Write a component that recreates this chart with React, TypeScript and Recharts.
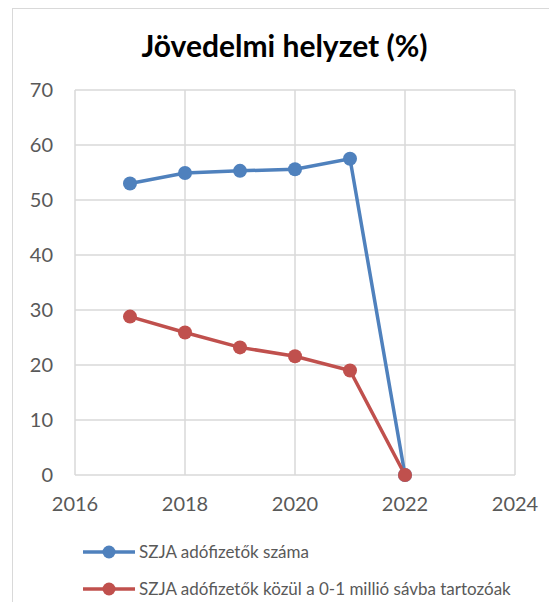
import React from "react";
import { LineChart, Line, XAxis, YAxis, CartesianGrid, Legend } from "recharts";

const YEARS = [2017, 2018, 2019, 2020, 2021, 2022];
const TAXPAYERS = [53.0, 54.9, 55.3, 55.6, 57.5, 0];
const LOW_BAND = [28.8, 25.9, 23.2, 21.6, 19.0, 0];
const X_TICKS = [2016, 2018, 2020, 2022, 2024];
const Y_TICKS = [0, 10, 20, 30, 40, 50, 60, 70];

const SERIES = [
  { key: "szja", name: "SZJA adófizetők száma", color: "#4f81bd" },
  { key: "low", name: "SZJA adófizetők közül a 0-1 millió sávba tartozóak", color: "#c0504d" },
];

const data = YEARS.map((year, i) => ({ year, szja: TAXPAYERS[i], low: LOW_BAND[i] }));

const FONT = "Lato, 'Open Sans', sans-serif";

function LegendBox() {
  return (
    <div style={{ fontFamily: FONT, fontSize: 17, color: "#595959" }}>
      {SERIES.map((s) => (
        <div key={s.key} style={{ display: "flex", alignItems: "center", height: 37, whiteSpace: "nowrap" }}>
          <svg width={52} height={16} style={{ marginRight: 4, flex: "none" }}>
            <line x1={0} y1={8} x2={52} y2={8} stroke={s.color} strokeWidth={3.5} />
            <circle cx={26} cy={8} r={6.5} fill={s.color} />
          </svg>
          <span>{s.name}</span>
        </div>
      ))}
    </div>
  );
}

export default function App() {
  return (
    <div style={{ position: "absolute", left: 0, top: 0, width: 549, height: 602, background: "#fff", overflow: "hidden" }}>
      <div
        style={{
          position: "absolute",
          left: 12,
          top: 8,
          width: 600,
          height: 700,
          borderLeft: "1px solid #d9d9d9",
          borderTop: "1px solid #d9d9d9",
        }}
      />
      <div
        style={{
          position: "absolute",
          left: 0,
          width: 569,
          top: 27,
          textAlign: "center",
          fontFamily: FONT,
          fontWeight: 700,
          fontSize: 30,
          lineHeight: "normal",
          color: "#000",
        }}
      >
        Jövedelmi helyzet (%)
      </div>
      <div style={{ position: "absolute", left: 0, top: 0 }}>
        <LineChart width={549} height={602} data={data} margin={{ top: 90, right: 34, bottom: 87, left: 0 }}>
          <CartesianGrid stroke="#d9d9d9" strokeWidth={1.5} />
          <XAxis
            dataKey="year"
            type="number"
            domain={[2016, 2024]}
            ticks={X_TICKS}
            axisLine={false}
            tickLine={false}
            tickSize={0}
            tickMargin={22}
            height={40}
            tick={{ fill: "#595959", fontSize: 20, fontFamily: FONT }}
          />
          <YAxis
            domain={[0, 70]}
            ticks={Y_TICKS}
            axisLine={false}
            tickLine={false}
            tickSize={0}
            tickMargin={22}
            width={75}
            tick={{ fill: "#595959", fontSize: 20, fontFamily: FONT }}
          />
          {SERIES.map((s) => (
            <Line
              key={s.key}
              dataKey={s.key}
              name={s.name}
              stroke={s.color}
              strokeWidth={3.5}
              dot={{ r: 7, fill: s.color, stroke: s.color, strokeWidth: 0 }}
              activeDot={false}
              isAnimationActive={false}
            />
          ))}
          <Legend
            layout="vertical"
            align="center"
            verticalAlign="middle"
            content={() => <LegendBox />}
            wrapperStyle={{ left: 83, top: 533, width: 460, height: 74 }}
          />
        </LineChart>
      </div>
    </div>
  );
}
